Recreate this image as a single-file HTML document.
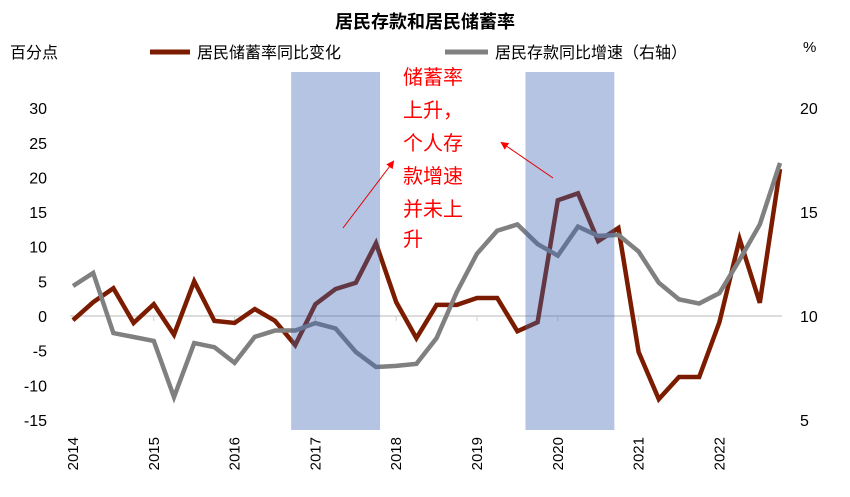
<!DOCTYPE html>
<html><head><meta charset="utf-8"><style>
body{margin:0;background:#fff;}
svg text{font-family:"Liberation Sans","Noto Sans CJK SC",sans-serif;}
</style></head><body>
<svg width="850" height="492" viewBox="0 0 850 492">
<g id="plot"></g>
<text x="425" y="28" text-anchor="middle" font-size="18" font-weight="bold">居民存款和居民储蓄率</text>
<text x="10" y="58" font-size="16">百分点</text>
<text x="803" y="52" font-size="15">%</text>
<g><line x1="150" y1="52" x2="190" y2="52" stroke="#7b1c00" stroke-width="5"/><text x="197" y="58" font-size="16">居民储蓄率同比变化</text></g>
<g><line x1="445" y1="52" x2="488" y2="52" stroke="#808080" stroke-width="5"/><text x="495" y="58" font-size="16">居民存款同比增速（右轴）</text></g>
<g fill="#ff0000" font-size="20">
<text x="403" y="84">储蓄率</text><text x="403" y="117">上升，</text><text x="403" y="150">个人存</text><text x="403" y="183">款增速</text><text x="403" y="216">并未上</text><text x="403" y="246">升</text>
</g>
<defs><marker id="ah" markerWidth="8" markerHeight="8" refX="6" refY="4" orient="auto"><path d="M0,0 L8,4 L0,8z" fill="#ff0000"/></marker></defs>
<line x1="343" y1="228" x2="393" y2="162" stroke="#e00000" stroke-width="1" marker-end="url(#ah)"/>
<line x1="553" y1="178" x2="502" y2="143" stroke="#e00000" stroke-width="1" marker-end="url(#ah)"/>
</svg>
<script>
const years=["2014","2015","2016","2017","2018","2019","2020","2021","2022"];
const leftTicks=[30,25,20,15,10,5,0,-5,-10,-15];
const rightTicks=[20,15,10,5];
const savingsChange=[-0.6,2,4,-1,1.7,-2.7,5,-0.7,-1,1,-0.7,-4.2,1.7,3.9,4.8,10.5,2,-3.2,1.6,1.6,2.6,2.6,-2.2,-0.9,16.7,17.7,10.8,12.7,-5.2,-12,-8.8,-8.8,-0.9,11.1,1.9,21.2];
const depositGrowth=[11.44,12.07,9.18,8.99,8.8,6.1,8.7,8.5,7.75,9.0,9.3,9.3,9.66,9.4,8.27,7.55,7.6,7.7,8.94,11.15,13.0,14.1,14.4,13.46,12.9,14.3,13.85,13.9,13.1,11.6,10.8,10.6,11.1,12.7,14.4,17.36];
const shadeStart=[10.8,22.4];
const shadeEnd=[15.2,26.8];
const NS="http://www.w3.org/2000/svg";
const g=document.getElementById('plot');
const x=i=>73+i*20.2;
const yL=v=>316-v*6.93;
const yR=v=>316-(v-10)*20.8;
function mk(t,a){const e=document.createElementNS(NS,t);for(const k in a)e.setAttribute(k,a[k]);g.appendChild(e);return e;}
mk('line',{x1:70,y1:316,x2:782,y2:316,stroke:'#d0d0d0','stroke-width':1.5});
years.forEach((yr,k)=>{
 const xx=x(k*4);
 mk('line',{x1:xx,y1:316,x2:xx,y2:321,stroke:'#d0d0d0'});
 const t=mk('text',{x:0,y:0,'font-size':15,'text-anchor':'end',transform:`translate(${xx+5},${437}) rotate(-90)`});
 t.textContent=yr;
 
 
});
leftTicks.forEach(v=>{const t=mk('text',{x:47,y:yL(v)+6,'font-size':16,'text-anchor':'end'});t.textContent=v;
 
 });
rightTicks.forEach(v=>{const t=mk('text',{x:800,y:yR(v)+6,'font-size':16});t.textContent=v;
 
 });
const red=mk('polyline',{points:savingsChange.map((v,i)=>x(i)+','+yL(v)).join(' '),fill:'none',stroke:'#7b1c00','stroke-width':4.5,'stroke-linejoin':'miter'});


const gr=mk('polyline',{points:depositGrowth.map((v,i)=>x(i)+','+yR(v)).join(' '),fill:'none',stroke:'#808080','stroke-width':4.5});


shadeStart.forEach((s,k)=>{const r=mk('rect',{x:x(s),y:72,width:x(shadeEnd[k])-x(s),height:358,fill:'rgba(60,100,180,0.38)'});
 
 });
</script>
</body></html>
